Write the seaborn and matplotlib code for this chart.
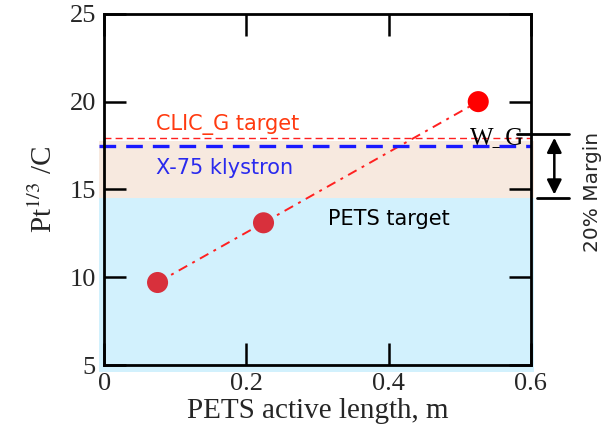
import matplotlib
matplotlib.use("Agg")
import matplotlib.pyplot as plt
import seaborn as sns
import pandas as pd

# data
lengths = [0.075, 0.224, 0.526]
values = [9.7, 13.1, 20.0]
point_colors = ["#d8303c", "#d8303c", "#ff0000"]
clic_g_target = 17.95
x75_klystron = 17.5
pets_target = 14.5
xticks = [0, 0.2, 0.4, 0.6]
yticks = [5, 10, 15, 20, 25]

sns.set_style("ticks")
plt.rcParams["font.family"] = ["Liberation Serif", "DejaVu Serif"]
plt.rcParams["mathtext.fontset"] = "stix"

df = pd.DataFrame({"length": lengths, "value": values})

fig = plt.figure(figsize=(6.06, 4.32), dpi=100)
ax = fig.add_axes([0.172, 0.155, 0.704, 0.813])
ax.set_xlim(0, 0.6)
ax.set_ylim(5, 25)

# shaded bands (slightly overhanging the frame)
ax.fill_between([-0.007, 0.605], 4.6, pets_target, color="#d2f1fd", zorder=0.5, clip_on=False, lw=0)
ax.fill_between([-0.007, 0.605], pets_target, x75_klystron + 0.25, color="#f7e9df", zorder=0.5, clip_on=False, lw=0)

# connecting line and points
sns.lineplot(data=df, x="length", y="value", ax=ax, color="#ff2020", lw=1.4,
             linestyle=(0, (5, 3, 1.5, 3)), zorder=2)
sns.scatterplot(data=df, x="length", y="value", ax=ax, hue="length",
                palette=dict(zip(lengths, point_colors)), s=230, edgecolor="none",
                legend=False, zorder=3)

# reference lines
ax.plot([0, 0.6], [clic_g_target, clic_g_target], color="#ff2020", lw=1.0, ls=(0, (5, 3)), zorder=2)
ax.plot([-0.007, 0.6], [x75_klystron, x75_klystron], color="#1a1aff", lw=2.4, ls=(0, (5, 3)), zorder=2.5, clip_on=False)

# annotations
ann_font = ["DejaVu Sans"]
ax.text(0.073, 18.7, "CLIC_G target", color="#ff3a10", fontsize=15, family=ann_font, va="center")
ax.text(0.073, 16.2, "X-75 klystron", color="#2a2aee", fontsize=15, family=ann_font, va="center")
ax.text(0.315, 13.3, "PETS target", color="black", fontsize=15, family=ann_font, va="center")
ax.text(0.515, 17.9, "W_G", color="black", fontsize=18, va="center", zorder=2.2)

# margin marker
ax.plot([0.581, 0.654], [clic_g_target + 0.2, clic_g_target + 0.2], color="black", lw=2, clip_on=False)
ax.plot([0.608, 0.654], [pets_target, pets_target], color="black", lw=2, clip_on=False)
ax.annotate("", xy=(0.633, pets_target + 0.05), xytext=(0.633, clic_g_target + 0.15),
            arrowprops=dict(arrowstyle="<|-|>", color="black", lw=1.8, mutation_scale=22),
            annotation_clip=False)
ax.text(0.686, 14.85, "20% Margin", rotation=90, fontsize=14.5, family=ann_font,
        va="center", ha="center", clip_on=False)

# axes styling
ax.set_xticks(xticks)
ax.set_xticklabels(["0", "0.2", "0.4", "0.6"])
ax.set_yticks(yticks)
ax.set_yticklabels([str(t) for t in yticks])
ax.tick_params(direction="in", length=16, width=1.8, labelsize=19, top=True, right=True, color="black", pad=6)
for sp in ax.spines.values():
    sp.set_visible(True)
    sp.set_linewidth(2)
    sp.set_color("black")
    sp.set_zorder(4)
ax.set_xlabel("PETS active length, m", fontsize=21, labelpad=2)
ax.set_ylabel(r"Pt$^{1/3}$ /C", fontsize=21, labelpad=8)

fig.savefig("out.png", dpi=100)
